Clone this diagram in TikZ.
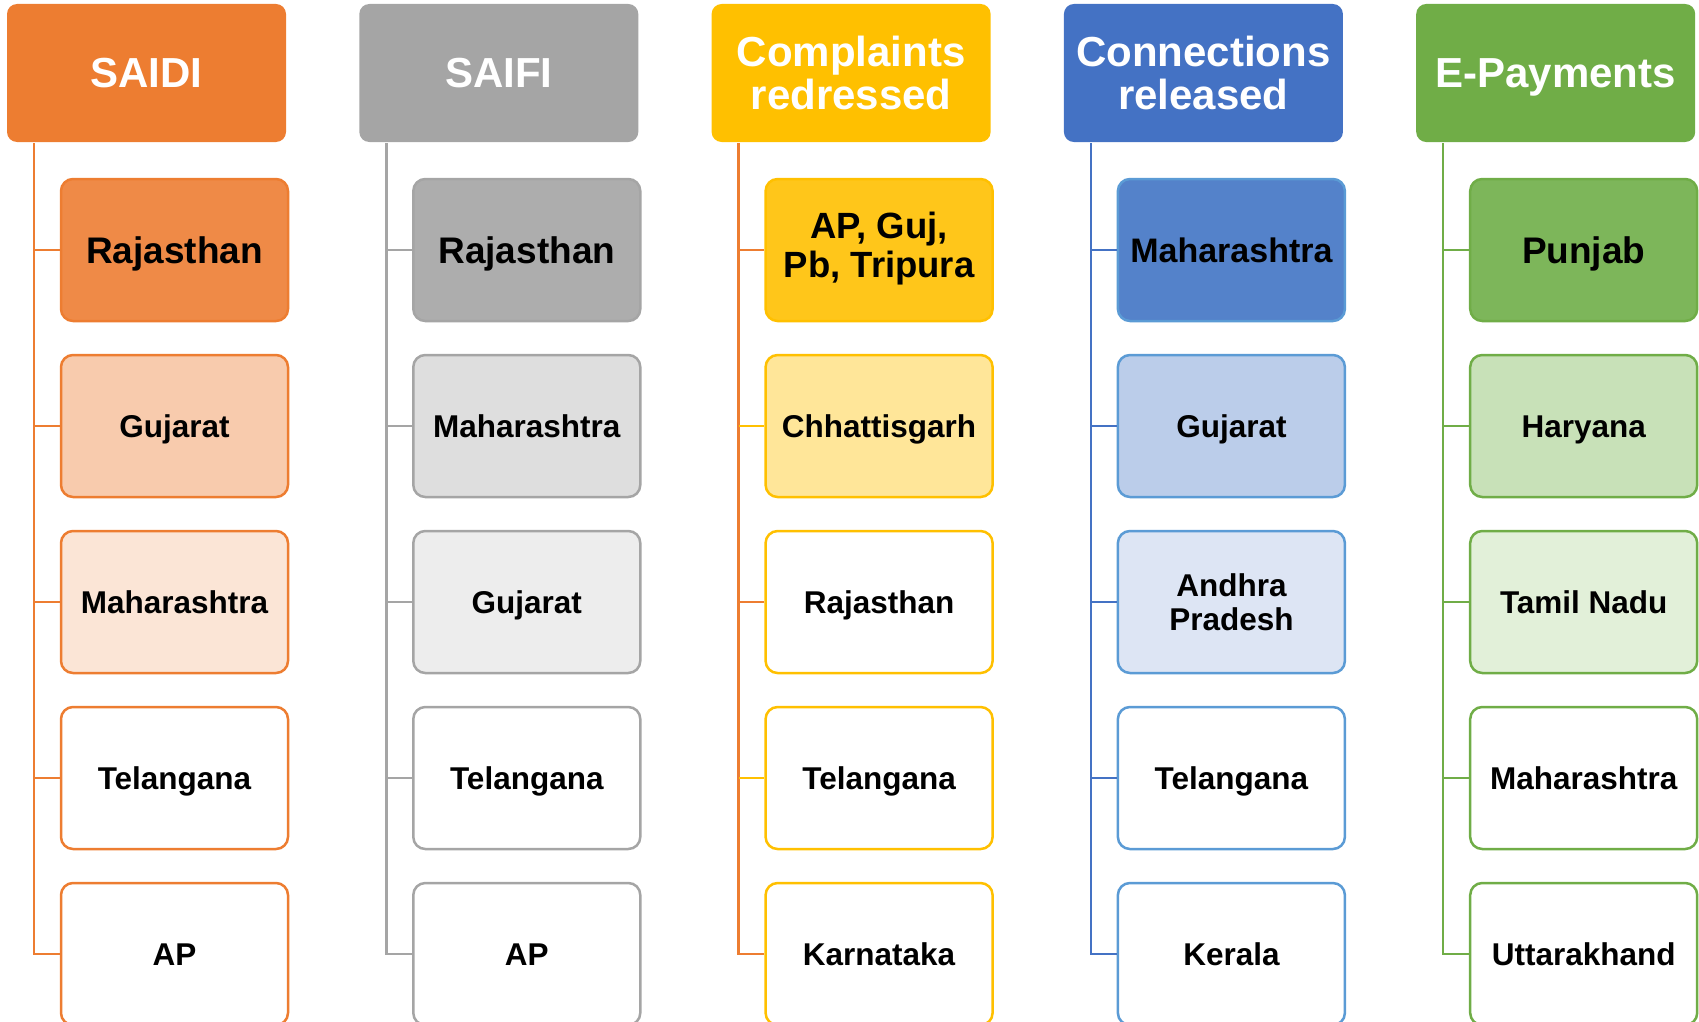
\documentclass[tikz,border=0pt]{standalone}
\usepackage{fontspec}
\setmainfont{Liberation Sans}
\definecolor{orH}{HTML}{ED7D31}
\definecolor{orA}{HTML}{EF8A47}
\definecolor{orB}{HTML}{F8CBAD}
\definecolor{orC}{HTML}{FBE5D6}
\definecolor{grH}{HTML}{A5A5A5}
\definecolor{grA}{HTML}{ADADAD}
\definecolor{grB}{HTML}{DEDEDE}
\definecolor{grC}{HTML}{EDEDED}
\definecolor{yeH}{HTML}{FFC000}
\definecolor{yeA}{HTML}{FFC61A}
\definecolor{yeB}{HTML}{FFE699}
\definecolor{blH}{HTML}{4472C4}
\definecolor{blL}{HTML}{5B9BD5}
\definecolor{blA}{HTML}{5482CA}
\definecolor{blB}{HTML}{BBCDEA}
\definecolor{blC}{HTML}{DDE5F4}
\definecolor{gnH}{HTML}{70AD47}
\definecolor{gnA}{HTML}{7DB65A}
\definecolor{gnB}{HTML}{C8E1B8}
\definecolor{gnC}{HTML}{E2F0D9}
\tikzset{
  hdr/.style={rounded corners=10pt, minimum width=279pt, minimum height=138pt, inner sep=0pt,
    align=center, text=white, font=\bfseries\fontsize{42}{43}\selectfont},
  hdrone/.style={hdr, text height=30pt, text depth=0pt},
  cboxm/.style={rounded corners=12pt, minimum width=227pt, minimum height=142pt, inner sep=0pt,
    align=center, text=black, line width=2.5pt, font=\bfseries\fontsize{31.5}{34}\selectfont},
  cbox/.style={cboxm, text height=22.6pt, text depth=0pt},
  topbox/.style={cboxm, text height=26.5pt, text depth=0pt, font=\bfseries\fontsize{37}{39}\selectfont},
  topboxm/.style={cboxm, font=\bfseries\fontsize{36.5}{39}\selectfont},
  conn/.style={line width=2.5pt}
}
\begin{document}
\begin{tikzpicture}[x=1pt,y=-1pt]
\useasboundingbox (0,0) rectangle (1699,1022);
\clip (0,0) rectangle (1699,1022);

% ---------- Column 1: SAIDI ----------
\node[hdrone, fill=orH] (h1) at (146.5,73) {SAIDI};
\coordinate (t1) at (34,143);
\coordinate (b1) at (34,955);
\node[topbox, fill=orA, draw=orH] (a1) at (174.5,250) {Rajasthan};
\node[cbox, fill=orB, draw=orH] (a2) at (174.5,426) {Gujarat};
\node[cbox, fill=orC, draw=orH] (a3) at (174.5,602) {Maharashtra};
\node[cbox, fill=white, draw=orH] (a4) at (174.5,778) {Telangana};
\node[cbox, fill=white, draw=orH] (a5) at (174.5,954) {AP};
\draw[conn, orH] (t1) -- (b1);
\foreach \n in {a1,a2,a3,a4,a5} \draw[conn, orH] (t1 |- \n.west) -- (\n.west);

% ---------- Column 2: SAIFI ----------
\node[hdrone, fill=grH] (h2) at (498.8,73) {SAIFI};
\coordinate (t2) at (386.3,143);
\coordinate (b2) at (386.3,955);
\node[topbox, fill=grA, draw=grH] (s1) at (526.8,250) {Rajasthan};
\node[cbox, fill=grB, draw=grH] (s2) at (526.8,426) {Maharashtra};
\node[cbox, fill=grC, draw=grH] (s3) at (526.8,602) {Gujarat};
\node[cbox, fill=white, draw=grH] (s4) at (526.8,778) {Telangana};
\node[cbox, fill=white, draw=grH] (s5) at (526.8,954) {AP};
\draw[conn, grH] (t2) -- (b2);
\foreach \n in {s1,s2,s3,s4,s5} \draw[conn, grH] (t2 |- \n.west) -- (\n.west);

% ---------- Column 3: Complaints redressed ----------
\node[hdr, fill=yeH] (h3) at (851.1,73) {Complaints\\redressed};
\coordinate (t3) at (738.6,143);
\coordinate (b3) at (738.6,955);
\node[topboxm, fill=yeA, draw=yeH] (c1) at (879.1,250) {\raisebox{-3pt}{\begin{tabular}{@{}c@{}}AP, Guj,\\Pb, Tripura\end{tabular}}};
\node[cbox, fill=yeB, draw=yeH] (c2) at (879.1,426) {Chhattisgarh};
\node[cbox, fill=white, draw=yeH] (c3) at (879.1,602) {Rajasthan};
\node[cbox, fill=white, draw=yeH] (c4) at (879.1,778) {Telangana};
\node[cbox, fill=white, draw=yeH] (c5) at (879.1,954) {Karnataka};
\draw[conn, orH] (t3) -- (b3);
\foreach \n in {c1,c3,c5} \draw[conn, orH] (t3 |- \n.west) -- (\n.west);
\foreach \n in {c2,c4} \draw[conn, yeH] (t3 |- \n.west) -- (\n.west);

% ---------- Column 4: Connections released ----------
\node[hdr, fill=blH] (h4) at (1203.4,73) {Connections\\released};
\coordinate (t4) at (1090.9,143);
\coordinate (b4) at (1090.9,955);
\node[cboxm, fill=blA, draw=blL, text height=24.3pt, text depth=0pt, font=\bfseries\fontsize{34}{36}\selectfont] (n1) at (1231.4,250) {Maharashtra};
\node[cbox, fill=blB, draw=blL] (n2) at (1231.4,426) {Gujarat};
\node[cboxm, fill=blC, draw=blL] (n3) at (1231.4,602) {Andhra\\Pradesh};
\node[cbox, fill=white, draw=blL] (n4) at (1231.4,778) {Telangana};
\node[cbox, fill=white, draw=blL] (n5) at (1231.4,954) {Kerala};
\draw[conn, blH] (t4) -- (b4);
\foreach \n in {n1,n2,n3,n4,n5} \draw[conn, blH] (t4 |- \n.west) -- (\n.west);

% ---------- Column 5: E-Payments ----------
\node[hdrone, fill=gnH] (h5) at (1555.7,73) {E-Payments};
\coordinate (t5) at (1443.2,143);
\coordinate (b5) at (1443.2,955);
\node[topbox, fill=gnA, draw=gnH] (e1) at (1583.7,250) {Punjab};
\node[cbox, fill=gnB, draw=gnH] (e2) at (1583.7,426) {Haryana};
\node[cbox, fill=gnC, draw=gnH] (e3) at (1583.7,602) {Tamil Nadu};
\node[cbox, fill=white, draw=gnH] (e4) at (1583.7,778) {Maharashtra};
\node[cbox, fill=white, draw=gnH] (e5) at (1583.7,954) {Uttarakhand};
\draw[conn, gnH] (t5) -- (b5);
\foreach \n in {e1,e2,e3,e4,e5} \draw[conn, gnH] (t5 |- \n.west) -- (\n.west);
\end{tikzpicture}
\end{document}
